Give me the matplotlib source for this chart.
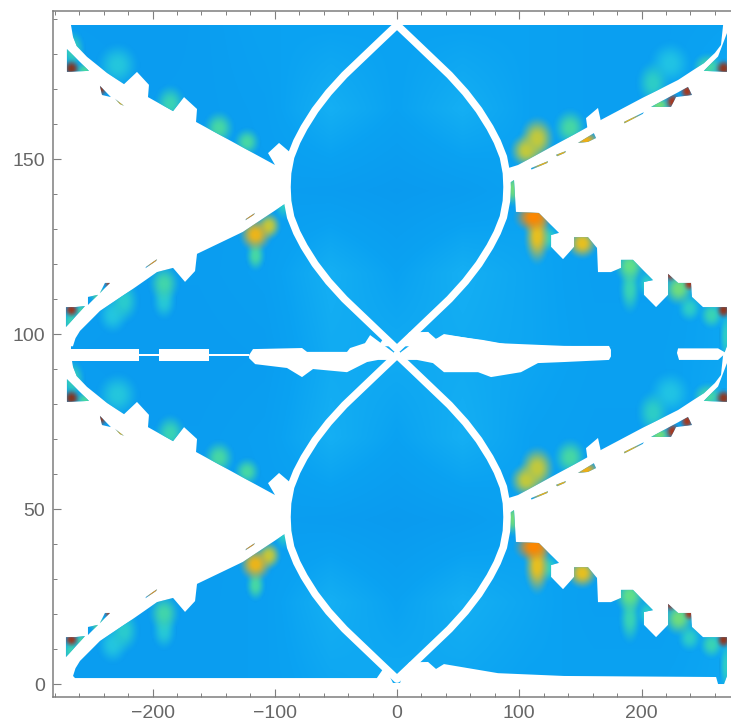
import numpy as np
import matplotlib
matplotlib.use("Agg")
import matplotlib.pyplot as plt
from matplotlib.colors import LinearSegmentedColormap
from matplotlib.path import Path
from matplotlib.ticker import MultipleLocator

PERIOD = 94.3

# outline of the plotted region for one period (the lower one); the pattern repeats one period up
region_x = [95.7, 97.3, 116, 132.5, 126, 126, 135.8, 144.8, 144.8, 156.2, 163.6, 164.4, 175, 183.2, 183.2,
            193, 209.4, 202, 202, 211.9, 221.7, 221.7, 229.9, 240.5, 241.3, 250.3, 269.9, 269.9, 267.5,
            262.6, 261, 136.6, 82.6, 38.4, 31.9, 25.4, 10, 4.9, 2.5, -3.3, -10, -16.5, -263.4, -265,
            -263, -259.3, -251, -243, -216, -196.3, -183.2, -173.4, -165.2, -163.6, -126, -91.6, -86.7, -96.5, -105.5,
            -99.8, -164.4, -163.6, -174.2, -183.2, -203.7, -202.9, -212.7, -223.3, -237.2, -253.6, -262, -265,
            -266.7, -266.7, 267.5, 265, 260, 251, 229.9, 202, 166.9, 99, 90.8, 88.4]
region_y = [49.7, 40.6, 40.3, 34.6, 34, 30.6, 27.1, 30.6, 33.4, 33.4, 30.3, 23.4, 23.4, 24.6, 26.9,
            26.9, 21.1, 20.6, 16.9, 13.4, 16.9, 22.9, 20.3, 20.3, 16.3, 13.4, 13.4, 2.3, 0,
            0, 2, 2.3, 3.1, 5.7, 4.3, 6.3, 6.2, 3.4, 0.3, 0.3, 5, 1.7, 1.7, 2.3,
            4.5, 6.6, 9.5, 12.3, 18.6, 23.4, 24.6, 20.6, 23.7, 28.6, 34.9, 42.9, 57.4, 60.3, 57.4,
            54, 66.3, 70, 73.4, 69.4, 73.4, 76.9, 80.6, 77.1, 80.3, 84.9, 88, 90.6,
            94, 96.5, 96.5, 88.3, 86, 83.1, 78.3, 73.4, 66.9, 54, 53.1, 48]

# small detached fragments beyond the wing edges
piece_x = [[269.9, 269.9, 251, 262.6],
           [207.8, 238, 241.3, 228.2, 224.1],
           [185.7, 202, 201, 186],
           [109.6, 123.5, 123, 110],
           [130, 138.2, 137.5, 131],
           [148, 161, 162.8, 156.2],
           [-270, -270, -252],
           [-243, -234, -241.3],
           [-230.7, -223.3, -226.6],
           [-270.8, -263.4, -255.2, -270.8],
           [-252.8, -244.6, -252.8],
           [-243, -238.9, -234.8],
           [-205.3, -196.3, -197, -205.8],
           [-123.5, -116.2, -117, -124]]
piece_y = [[91.7, 80.6, 80.9, 85],
           [70.6, 76.3, 74, 73.4, 70.6],
           [66.3, 69.1, 68.6, 65.9],
           [53.1, 55.1, 54.6, 52.7],
           [56.9, 58, 57.5, 56.5],
           [60.3, 63.1, 61.7, 60.6],
           [87.1, 80.6, 80.9],
           [76.6, 73.4, 74],
           [72.9, 70.9, 71.4],
           [13.4, 13.4, 13.7, 7.7],
           [16.3, 16.9, 14],
           [17.4, 20.3, 20.3],
           [24.9, 27.1, 26.6, 24.5],
           [38.6, 40.3, 39.8, 38.2]]

# white gaps
gap_x = [[-272, -211, -211, -272],
         [-211, -195, -195, -211],
         [-194.7, -153.8, -153.8, -194.7],
         [-153.8, -121, -121, -153.8],
         [-121, -117.8, -77.7, -73.6, -40.9, -38.4, -26.2, -22, 0, 25.4, 29.4, 40.9, 70.3, 92.4, 125, 173.4, 175, 175,
          173.4, 136.6, 115.3, 101.4, 76.9, 66.3, 38.4, 29.4, 16.4, 0, -15.5, -24.5, -40.9, -68.7, -77.7, -90,
          -116, -121],
         [229.9, 262.6, 269, 262.6, 230.7, 229]]
gap_y = [[95.7, 95.7, 92.3, 92.3],
         [94.4, 94.4, 93.7, 93.7],
         [95.7, 95.7, 92.3, 92.3],
         [94.4, 94.4, 93.7, 93.7],
         [94, 95.7, 96, 94.9, 94.9, 96, 97.4, 99.7, 94, 100.6, 98.3, 99.7, 98.3, 96.9, 96.6, 96.6, 95.5, 93.6,
          92.6, 92, 91.7, 89.1, 87.7, 89.1, 89.1, 91.7, 92.6, 92.6, 92.6, 92, 89.1, 90, 87.7, 90.3,
          91.4, 93.1],
         [95.9, 95.9, 94.6, 92.6, 92.6, 94.6]]
notch_x = [154.6, 164.4, 166.9, 156.2]
notch_y = [67.4, 70.3, 66.3, 63.4]

# half-profile of the lens-shaped white curves
lens_centres = [47.7, 142.0]
lens_dy = [0, 4, 8.6, 13, 17, 22, 27, 32, 37, 42, 46.3]
lens_dx = [90, 89.5, 87, 82, 76, 67, 56, 43, 28, 13, 0]

# background level, columns x = -270..270, rows y = 0..188
base_levels = [
    [.30, .30, .30, .40, .60, .70, .60, .50, .50, .50, .60],
    [.40, .30, .30, .40, .80, .50, .80, .60, .40, .40, .60],
    [.40, .35, .30, .35, .30, .20, .30, .50, .50, .40, .60],
    [.45, .30, .30, .40, .80, .50, .80, .50, .40, .40, .70],
    [.30, .25, .25, .30, .70, .70, .70, .60, .45, .45, .60],
    [.40, .30, .30, .40, .80, .50, .80, .60, .40, .40, .60],
    [.40, .35, .30, .35, .30, .20, .30, .50, .50, .40, .60],
    [.45, .30, .30, .40, .80, .50, .80, .50, .40, .40, .70],
    [.30, .25, .30, .50, .50, .50, .50, .50, .40, .40, .50],
]

# local peaks of the plotted quantity (lower period; repeats one period up): position, level, reach
hot_x = [115, 106, 142, 210, 224, 112, 115, 125, 152, 191, 191, 205, 224, 231, 240, 240, 268, 258, 270, 95,
         268, 255, 238, 226, 215, 190, 155, 120, 135,
         -267, -266, -255, -229, -186, -146, -123, -243, -227,
         -116, -105, -116, -191, -191, -224, -233, -267, -267, -258, -244, -235, -200, -120, -93]
hot_y = [61.5, 58, 64.6, 77.4, 83, 39, 33.5, 33, 31.5, 25, 18.5, 20, 23, 18.5, 20, 13, 12.5, 11, 5, 47,
         81.5, 82, 75, 72, 71, 67, 61, 54, 57,
         81.5, 87, 81, 82.5, 71.5, 64.5, 60.5, 76, 71.5,
         34, 36.5, 28, 20, 15, 15, 11, 12.5, 9, 12, 16.5, 20, 26, 39, 43]
hot_level = [.5, .5, .3, .2, .12, .72, .55, .2, .55, .38, .25, .2, .86, .4, .86, .2, .9, .25, .2, .4,
             .9, .3, .86, .86, .4, .6, .6, .6, .6,
             .92, .25, .3, .14, .25, .3, .3, .9, .6,
             .58, .5, .3, .28, .16, .18, .13, .88, .25, .3, .35, .85, .7, .7, .2]
hot_reach_x = [16, 15, 15, 15, 19, 18, 12, 9, 14, 14, 10, 9, 7, 14, 6, 11, 7, 11, 6, 7,
               8, 14, 7, 7, 11, 15, 12, 12, 8,
               8, 11, 11, 19, 14, 14, 12, 7, 8,
               15, 11, 9, 14, 11, 14, 14, 7, 9, 8, 9, 6, 8, 8, 9]
hot_reach_y = [7, 5.5, 6, 7, 7, 5, 9, 4.5, 5, 5.5, 8, 4.5, 3, 5.5, 2.5, 4.5, 3, 4.5, 8, 5.5,
               3, 4.5, 3, 3, 3, 3, 3, 3, 3,
               3, 6, 3, 7, 6, 5.5, 4.5, 3, 3,
               5.5, 4.5, 5, 6, 6, 7, 6, 2.5, 4.5, 3, 3, 2.5, 3, 3, 5.5]

x_ticks_major = 100
x_ticks_minor = 20
y_ticks_major = 50
y_ticks_minor = 10

plt.rcParams['font.family'] = ['Liberation Sans', 'DejaVu Sans']
W, H = 731, 724
fig = plt.figure(figsize=(W / 100, H / 100), dpi=100)
ax = fig.add_axes([53 / W, (H - 697) / H, (731 - 53) / W, (697 - 11) / H])

polys = []
for k in (0, 1):
    rx = np.array(region_x)
    ry = np.array(region_y) + k * PERIOD
    polys.append(Path(np.r_[np.c_[rx, ry], [[rx[0], ry[0]]]], closed=True))
    for px, py in zip(piece_x, piece_y):
        px = np.array(px)
        py = np.array(py) + k * PERIOD
        polys.append(Path(np.r_[np.c_[px, py], [[px[0], py[0]]]], closed=True))
clip = Path.make_compound_path(*polys)

base_cmap = LinearSegmentedColormap.from_list('base', ['#0a96ee', '#0aa2f2', '#1cb8f4'])
im0 = ax.imshow(np.array(base_levels), origin='lower', extent=(-297, 297, -11.75, 199.75),
                cmap=base_cmap, vmin=0, vmax=1, interpolation='bilinear', aspect='auto', zorder=0.5)

stops = [(0.0, '#18b0f0'), (0.12, '#22c4e4'), (0.22, '#30d0c0'), (0.38, '#5fe08a'),
         (0.55, '#e8c020'), (0.72, '#ff8800'), (0.86, '#a83a20'), (1.0, '#5a3020')]
hot_cmap = LinearSegmentedColormap.from_list('hot2', stops)

gx_c = np.linspace(-285, 285, 381)
gy_c = np.linspace(-2, 195, 395)
GX, GY = np.meshgrid(gx_c, gy_c)
rgb = np.zeros(GX.shape + (3,))
alpha = np.zeros(GX.shape)
order = np.argsort(hot_level)
for k in (0, 1):
    for n in order:
        d = np.hypot((GX - hot_x[n]) / hot_reach_x[n], (GY - hot_y[n] - k * PERIOD) / hot_reach_y[n])
        a = np.clip((1 - d) * 1.1, 0, 1)
        a = a * a * (3 - 2 * a)
        col = np.array(hot_cmap(hot_level[n])[:3])
        new_alpha = a + alpha * (1 - a)
        safe = np.where(new_alpha > 0, new_alpha, 1)
        rgb = (col[None, None, :] * a[..., None] + rgb * (alpha * (1 - a))[..., None]) / safe[..., None]
        alpha = new_alpha
im1 = ax.imshow(np.dstack([rgb, alpha]), origin='lower', extent=(gx_c[0], gx_c[-1], gy_c[0], gy_c[-1]),
                interpolation='bilinear', aspect='auto', zorder=0.6)
ax.set_xlim(-281.4, 273.2)
ax.set_ylim(-3.71, 192.3)
for im in (im0, im1):
    im.set_clip_path(clip, transform=ax.transData)

for gx, gy in zip(gap_x, gap_y):
    ax.fill(gx, gy, color='white', lw=0, zorder=1)
for k in (0, 1):
    ax.fill(notch_x, np.array(notch_y) + k * PERIOD, color='white', lw=0, zorder=1)

dy = np.array(lens_dy)
dx = np.array(lens_dx)
for c in lens_centres:
    xs = np.r_[dx[::-1], dx[1:], -dx[-2::-1], -dx[1:]]
    ys = np.r_[c + dy[::-1], c - dy[1:], c - dy[-2::-1], c + dy[1:]]
    ax.plot(xs, ys, color='white', lw=5.4, solid_joinstyle='round', solid_capstyle='round', zorder=1.5)

ax.axhspan(188.3, 192.3, color='white', lw=0, zorder=1.6)

grey = '#7f7f7f'
for s in ('left', 'bottom', 'top'):
    ax.spines[s].set_color(grey)
    ax.spines[s].set_linewidth(1.1)
ax.spines['right'].set_visible(False)
ax.xaxis.set_major_locator(MultipleLocator(x_ticks_major))
ax.xaxis.set_minor_locator(MultipleLocator(x_ticks_minor))
ax.yaxis.set_major_locator(MultipleLocator(y_ticks_major))
ax.yaxis.set_minor_locator(MultipleLocator(y_ticks_minor))
ax.set_axisbelow(False)
ax.tick_params(which='major', direction='in', length=5.8, width=0.8, color=grey, top=True, right=False,
               labelsize=14, labelcolor='#666666', pad=6)
ax.tick_params(which='minor', direction='in', length=3, width=0.7, color=grey, top=True, right=False)
ax.patch.set_facecolor('white')

fig.savefig('out.png', dpi=100, facecolor='white')
